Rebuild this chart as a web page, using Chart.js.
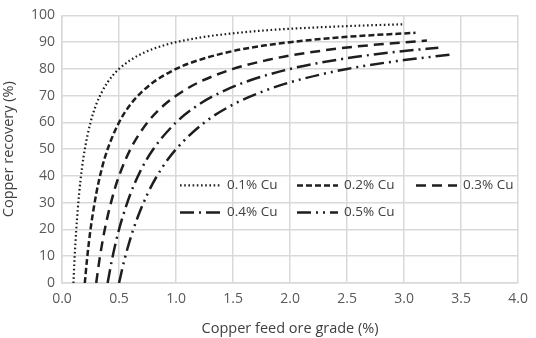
<!DOCTYPE html>
<html>
<head>
<meta charset="utf-8">
<script src="https://cdn.jsdelivr.net/npm/chart.js"></script>
<style>
  html, body { margin: 0; padding: 0; background: #fff; }
  #wrap { width: 536px; height: 338px; }
</style>
</head>
<body>
<div id="wrap"><canvas id="recovery"></canvas></div>
<script>
// values
const seriesLabels = ['0.1% Cu', '0.2% Cu', '0.3% Cu', '0.4% Cu', '0.5% Cu'];

const grade01 = [0.1, 0.11, 0.125, 0.15, 0.175, 0.2, 0.25, 0.3, 0.35, 0.4, 0.45, 0.5, 0.6, 0.7, 0.8, 0.9, 1.0, 1.25, 1.5, 1.75, 2.0, 2.5, 3.0];
const recov01 = [0, 9.1, 20, 33.3, 42.9, 50, 60, 66.7, 71.4, 75, 77.8, 80, 83.3, 85.7, 87.5, 88.9, 90, 92, 93.3, 94.3, 95, 96, 96.7];

const grade02 = [0.2, 0.22, 0.25, 0.3, 0.35, 0.4, 0.5, 0.6, 0.7, 0.8, 1.0, 1.2, 1.5, 1.8, 2.0, 2.5, 3.1];
const recov02 = [0, 9.1, 20, 33.3, 42.9, 50, 60, 66.7, 71.4, 75, 80, 83.3, 86.7, 88.9, 90, 92, 93.5];

const grade03 = [0.3, 0.33, 0.375, 0.45, 0.5, 0.6, 0.75, 0.9, 1.05, 1.2, 1.5, 1.8, 2.0, 2.5, 3.2];
const recov03 = [0, 9.1, 20, 33.3, 40, 50, 60, 66.7, 71.4, 75, 80, 83.3, 85, 88, 90.6];

const grade04 = [0.4, 0.44, 0.5, 0.6, 0.7, 0.8, 1.0, 1.2, 1.4, 1.6, 2.0, 2.5, 3.0, 3.3];
const recov04 = [0, 9.1, 20, 33.3, 42.9, 50, 60, 66.7, 71.4, 75, 80, 84, 86.7, 87.9];

const grade05 = [0.5, 0.55, 0.625, 0.75, 0.875, 1.0, 1.25, 1.5, 1.75, 2.0, 2.5, 3.0, 3.4];
const recov05 = [0, 9.1, 20, 33.3, 42.9, 50, 60, 66.7, 71.4, 75, 80, 83.3, 85.3];

const grades = [grade01, grade02, grade03, grade04, grade05];
const recoveries = [recov01, recov02, recov03, recov04, recov05];

const dashes = [
  [1.6, 2.6],
  [6, 3],
  [10, 6],
  [14, 5, 2, 5],
  [14, 5, 2, 5, 2, 5],
];
const widths = [2.2, 2.5, 2.5, 2.5, 2.5];

const FONT = '"Open Sans", sans-serif';
const GRID = '#d9d9d9';
const TXT = '#595959';

function toPoints(xs, ys) {
  return xs.map((x, i) => ({ x: x, y: ys[i] }));
}

// legend drawn inside the plot area, two rows of entries
const insideLegend = {
  id: 'insideLegend',
  afterDatasetsDraw(chart) {
    const ctx = chart.ctx;
    const a = chart.chartArea;
    const slots = [
      [118, 170], [235, 170], [354, 170],
      [118, 197], [235, 197],
    ];
    ctx.save();
    ctx.font = '13.5px ' + FONT;
    ctx.fillStyle = '#404040';
    ctx.textBaseline = 'middle';
    chart.data.datasets.forEach((ds, i) => {
      const x = a.left + slots[i][0];
      const y = a.top + slots[i][1];
      ctx.strokeStyle = ds.borderColor;
      ctx.lineWidth = ds.borderWidth;
      ctx.setLineDash(ds.borderDash);
      ctx.beginPath();
      ctx.moveTo(x, y);
      ctx.lineTo(x + 41, y);
      ctx.stroke();
      ctx.setLineDash([]);
      ctx.fillText(ds.label, x + 47, y);
    });
    ctx.restore();
  },
};

(function () {
  const canvas = document.getElementById('recovery');

  const datasets = seriesLabels.map((label, i) => ({
    label: label,
    data: toPoints(grades[i], recoveries[i]),
    showLine: true,
    fill: false,
    borderColor: '#1e1e1e',
    borderWidth: widths[i],
    borderDash: dashes[i],
    pointRadius: 0,
    cubicInterpolationMode: 'monotone',
  }));

  new Chart(canvas, {
    type: 'scatter',
    data: { datasets: datasets },
    options: {
      responsive: true,
      maintainAspectRatio: false,
      animation: false,
      layout: { padding: { top: 13, right: 12, left: 0, bottom: 0 } },
      plugins: {
        legend: { display: false },
        tooltip: { enabled: false },
      },
      scales: {
        x: {
          type: 'linear',
          min: 0,
          max: 4,
          afterFit(scale) { scale.height = 55; },
          border: { color: GRID, width: 1.5 },
          grid: { color: GRID, lineWidth: 1.5, drawTicks: false },
          ticks: {
            stepSize: 0.5,
            padding: 8,
            color: TXT,
            font: { family: FONT, size: 14 },
            callback: (v) => v.toFixed(1),
          },
          title: {
            display: true,
            text: 'Copper feed ore grade (%)',
            color: '#404040',
            font: { family: FONT, size: 14.5 },
            padding: { top: 5, bottom: 0 },
          },
        },
        y: {
          min: 0,
          max: 100,
          afterFit(scale) { scale.width = 62; },
          border: { color: GRID, width: 1.5 },
          grid: { color: GRID, lineWidth: 1.5, drawTicks: false },
          ticks: {
            stepSize: 10,
            padding: 7,
            color: TXT,
            font: { family: FONT, size: 14 },
          },
          title: {
            display: true,
            text: 'Copper recovery (%)',
            color: '#404040',
            font: { family: FONT, size: 14.5 },
            padding: { top: 0, bottom: 3 },
          },
        },
      },
    },
    plugins: [insideLegend],
  });
})();
</script>
</body>
</html>
